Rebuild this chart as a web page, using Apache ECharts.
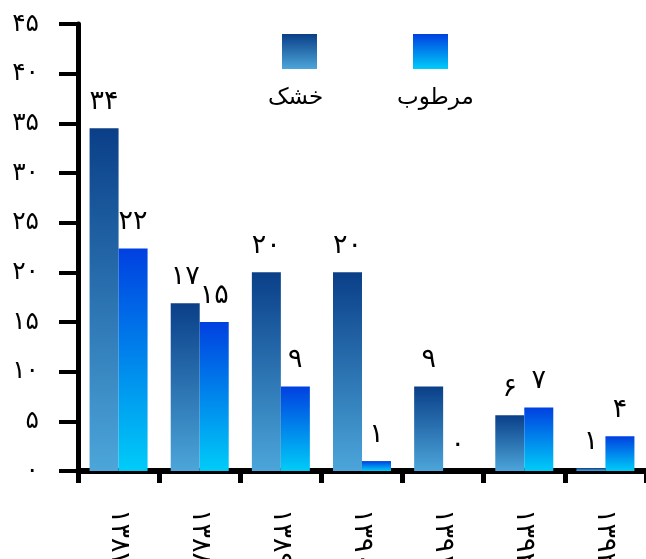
<!DOCTYPE html>
<html>
<head>
<meta charset="utf-8">
<script src="https://cdn.jsdelivr.net/npm/echarts@6/dist/echarts.min.js"></script>
<style>
html,body{margin:0;padding:0;background:#fff;}
#chart{width:646px;height:559px;}
</style>
</head>
<body>
<div id="chart"></div>
<script>
// ---- data ----
const categories = ['۱۳۸۷', '۱۳۸۸', '۱۳۸۹', '۱۳۹۰', '۱۳۹۱', '۱۳۹۲', '۱۳۹۳'];
const seriesNames = ['خشک', 'مرطوب'];
// bar heights
const dryValues = [34.5, 16.9, 20.0, 20.0, 8.5, 5.6, 0.3];
const wetValues = [22.4, 15.0, 8.5, 1.0, 0, 6.4, 3.5];
// value labels as printed on the picture
const dryLabels = [34, 17, 20, 20, 9, 6, 1];
const wetLabels = [22, 15, 9, 1, 0, 7, 4];
const yMin = 0, yMax = 45, yStep = 5;

const faDigits = '۰۱۲۳۴۵۶۷۸۹';
function toFa(n) { return String(n).replace(/\d/g, d => faDigits[+d]); }

const FONT = 'DejaVu Sans';
const dryGrad = new echarts.graphic.LinearGradient(0, 0, 0, 1, [
  { offset: 0, color: '#0a3f88' }, { offset: 1, color: '#4ca6da' }
]);
const wetGrad = new echarts.graphic.LinearGradient(0, 0, 0, 1, [
  { offset: 0, color: '#0040e0' }, { offset: 1, color: '#00ccf8' }
]);

const chart = echarts.init(document.getElementById('chart'), null, { renderer: 'canvas' });
chart.setOption({
  animation: false,
  backgroundColor: '#fff',
  textStyle: { fontFamily: FONT },
  grid: { left: 78, right: 0, top: 24, bottom: 88, containLabel: false, outerBoundsMode: 'none' },
  legend: [
    { data: [seriesNames[0]], left: 282, top: 34, padding: 0, itemWidth: 35, itemHeight: 35, icon: 'rect',
      formatter: () => '', selectedMode: false },
    { data: [seriesNames[1]], left: 413, top: 34, padding: 0, itemWidth: 35, itemHeight: 35, icon: 'rect',
      formatter: () => '', selectedMode: false }
  ],
  graphic: [
    { type: 'text', left: 298 - 30, top: 87, style: { text: seriesNames[0], font: '23px "DejaVu Sans"', fill: '#000', width: 60, align: 'center' } },
    { type: 'text', left: 435 - 38, top: 87, style: { text: seriesNames[1], font: '23px "DejaVu Sans"', fill: '#000', width: 76, align: 'center' } }
  ],
  xAxis: {
    type: 'category',
    data: categories,
    offset: 6,
    axisLine: { show: true, lineStyle: { color: '#000', width: 6 } },
    axisTick: { show: true, length: 12, lineStyle: { color: '#000', width: 5 } },
    axisLabel: { rotate: -90, margin: 32, fontSize: 27, color: '#000', fontFamily: FONT,
      padding: [0, 0, 14, 0] },
    splitLine: { show: false }
  },
  yAxis: {
    type: 'value',
    min: yMin, max: yMax, interval: yStep,
    axisLine: { show: true, lineStyle: { color: '#000', width: 5 } },
    axisTick: { show: true, length: 19, lineStyle: { color: '#000', width: 4 } },
    axisLabel: { margin: 39, fontSize: 25, color: '#000', fontFamily: FONT, formatter: v => toFa(v) },
    splitLine: { show: false }
  },
  series: [
    {
      name: seriesNames[0], type: 'bar', data: dryValues,
      barWidth: 29, barGap: '0%',
      itemStyle: { color: dryGrad },
      label: { show: true, position: 'top', distance: 13, fontSize: 27, color: '#000', fontFamily: FONT,
        formatter: p => toFa(dryLabels[p.dataIndex]) }
    },
    {
      name: seriesNames[1], type: 'bar', data: wetValues,
      barWidth: 29, barGap: '0%',
      itemStyle: { color: wetGrad },
      label: { show: true, position: 'top', distance: 13, fontSize: 27, color: '#000', fontFamily: FONT,
        formatter: p => toFa(wetLabels[p.dataIndex]) }
    }
  ]
});
</script>
</body>
</html>
